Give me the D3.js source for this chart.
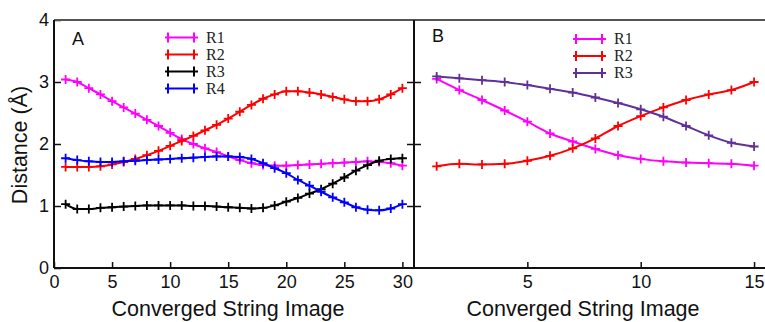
<!DOCTYPE html>
<html><head><meta charset="utf-8">
<script src="https://cdn.jsdelivr.net/npm/d3@7"></script>
<style>body{margin:0;background:#fff}svg{display:block}</style>
</head><body><svg id="c" width="765" height="322"></svg>
<script>
const imagesA = [1,2,3,4,5,6,7,8,9,10,11,12,13,14,15,16,17,18,19,20,21,22,23,24,25,26,27,28,29,30];
const r1A = [3.04,3.00,2.90,2.80,2.69,2.59,2.49,2.39,2.29,2.18,2.08,2.00,1.93,1.87,1.80,1.74,1.69,1.66,1.65,1.65,1.66,1.67,1.68,1.69,1.70,1.71,1.72,1.71,1.69,1.65];
const r2A = [1.63,1.63,1.63,1.64,1.67,1.71,1.76,1.82,1.89,1.97,2.05,2.13,2.22,2.31,2.41,2.52,2.63,2.73,2.80,2.85,2.85,2.83,2.80,2.76,2.72,2.69,2.69,2.72,2.80,2.90];
const r3A = [1.03,0.95,0.95,0.97,0.98,0.99,1.00,1.01,1.01,1.01,1.01,1.00,1.00,0.99,0.98,0.97,0.96,0.97,1.01,1.07,1.13,1.20,1.27,1.36,1.46,1.57,1.66,1.73,1.76,1.77];
const r4A = [1.77,1.74,1.72,1.71,1.71,1.72,1.73,1.74,1.75,1.76,1.77,1.78,1.79,1.80,1.80,1.79,1.76,1.69,1.61,1.53,1.42,1.33,1.23,1.14,1.06,0.98,0.94,0.93,0.96,1.03];
const imagesB = [1,2,3,4,5,6,7,8,9,10,11,12,13,14,15];
const r1B = [3.05,2.87,2.71,2.54,2.36,2.17,2.04,1.92,1.82,1.76,1.72,1.70,1.69,1.68,1.65];
const r2B = [1.64,1.68,1.67,1.68,1.73,1.81,1.93,2.09,2.29,2.45,2.59,2.71,2.80,2.87,3.00];
const r3B = [3.09,3.06,3.03,3.00,2.95,2.89,2.83,2.75,2.66,2.56,2.44,2.29,2.14,2.02,1.96];
const yTicks = [0,1,2,3,4];
const xTicksA = [0,5,10,15,20,25,30];
const xTicksB = [5,10,15];
const namesA = ["R1","R2","R3","R4"];
const namesB = ["R1","R2","R3"];
const colorsA = ["#ff00ff","#ff0000","#000000","#0000ff"];
const colorsB = ["#ff00ff","#ff0000","#60309a"];
const xTitle = "Converged String Image";
const yTitle = "Distance (Å)";

const svg = d3.select("#c");
const y = d3.scaleLinear().domain([0,4]).range([268,20]);
const xA = d3.scaleLinear().domain([0,31]).range([54,414]);
const xB = d3.scaleLinear().domain([0,15.5]).range([414,765.4]);
const sans = "'Liberation Sans', Arial, Helvetica, sans-serif";
const serif = "'Liberation Serif', 'Times New Roman', serif";

function styleAxis(g){
  g.select(".domain").remove();
  g.selectAll(".tick line").attr("stroke","#111").attr("stroke-width",1.5);
  g.selectAll(".tick text").attr("font-family",sans).attr("font-size",18).attr("fill","#111");
}
// axes
svg.append("g").attr("transform","translate(54,0)")
  .call(d3.axisLeft(y).tickValues(yTicks).tickSize(-7).tickPadding(5).tickFormat(d3.format("d"))).call(styleAxis);
svg.append("g").attr("transform","translate(414,0)")
  .call(d3.axisRight(y).tickValues([1,2,3]).tickSize(-7).tickFormat("")).call(styleAxis);
svg.append("g").attr("transform","translate(414,0)")
  .call(d3.axisLeft(y).tickValues([1,2,3]).tickSize(-7).tickFormat("")).call(styleAxis);
svg.append("g").attr("transform","translate(0,268)")
  .call(d3.axisBottom(xA).tickValues(xTicksA).tickSize(-6).tickPadding(7)).call(styleAxis);
svg.append("g").attr("transform","translate(0,268)")
  .call(d3.axisBottom(xB).tickValues(xTicksB).tickSize(-6).tickPadding(7)).call(styleAxis);

// frame
const frame = svg.append("g").attr("fill","none");
frame.append("line").attr("x1",xA(0)).attr("x2",765).attr("y1",y(4)).attr("y2",y(4)).attr("stroke","#555").attr("stroke-width",2);
frame.append("line").attr("x1",xA(0)).attr("x2",765).attr("y1",y(0)).attr("y2",y(0)).attr("stroke","#111").attr("stroke-width",2);
frame.append("line").attr("x1",xA(0)).attr("x2",xA(0)).attr("y1",y(0)).attr("y2",y(4)).attr("stroke","#111").attr("stroke-width",2);
frame.append("line").attr("x1",xB(0)).attr("x2",xB(0)).attr("y1",y(0)).attr("y2",y(4)).attr("stroke","#111").attr("stroke-width",2);

function drawSeries(x, xs, vals, color){
  const pts = xs.map((d,i)=>[d, vals[i]]);
  const g = svg.append("g");
  g.append("path").datum(pts).attr("fill","none").attr("stroke",color).attr("stroke-width",2)
    .attr("d", d3.line().x(d=>x(d[0])).y(d=>y(d[1])).curve(d3.curveMonotoneX));
  g.selectAll("path.m").data(pts).join("path").attr("class","m")
    .attr("transform",d=>`translate(${x(d[0])},${y(d[1])})`)
    .attr("d","M-4.5,0H4.5M0,-4.5V4.5").attr("stroke",color).attr("stroke-width",1.8).attr("fill","none");
}
[r1A,r2A,r3A,r4A].forEach((s,i)=>drawSeries(xA, imagesA, s, colorsA[i]));
[r1B,r2B,r3B].forEach((s,i)=>drawSeries(xB, imagesB, s, colorsB[i]));

function legend(x0, y0, names, colors){
  names.forEach((n,i)=>{
    const yy = y0 + i*17;
    const g = svg.append("g");
    g.append("line").attr("x1",x0).attr("x2",x0+33).attr("y1",yy).attr("y2",yy).attr("stroke",colors[i]).attr("stroke-width",2);
    [x0+3, x0+29].forEach(px=>g.append("path").attr("transform",`translate(${px},${yy})`)
      .attr("d","M0,-5V5").attr("stroke",colors[i]).attr("stroke-width",2));
    g.append("text").attr("x",x0+41).attr("y",yy+5).attr("font-family",serif).attr("font-size",16).attr("fill","#222").text(n);
  });
}
legend(165, 37.5, namesA, colorsA);
legend(573, 39, namesB, colorsB);

// panel labels
svg.append("text").attr("x",72).attr("y",45).attr("font-family",sans).attr("font-size",18).attr("fill","#111").text("A");
svg.append("text").attr("x",432).attr("y",42).attr("font-family",sans).attr("font-size",18).attr("fill","#111").text("B");

// titles
svg.append("text").attr("x",228).attr("y",316).attr("text-anchor","middle").attr("font-family",sans).attr("font-size",21.5).attr("fill","#111").text(xTitle);
svg.append("text").attr("x",583).attr("y",316).attr("text-anchor","middle").attr("font-family",sans).attr("font-size",21.5).attr("fill","#111").text(xTitle);
svg.append("text").attr("transform","translate(27,145) rotate(-90)").attr("text-anchor","middle").attr("font-family",sans).attr("font-size",21.5).attr("fill","#111").text(yTitle);
</script></body></html>
